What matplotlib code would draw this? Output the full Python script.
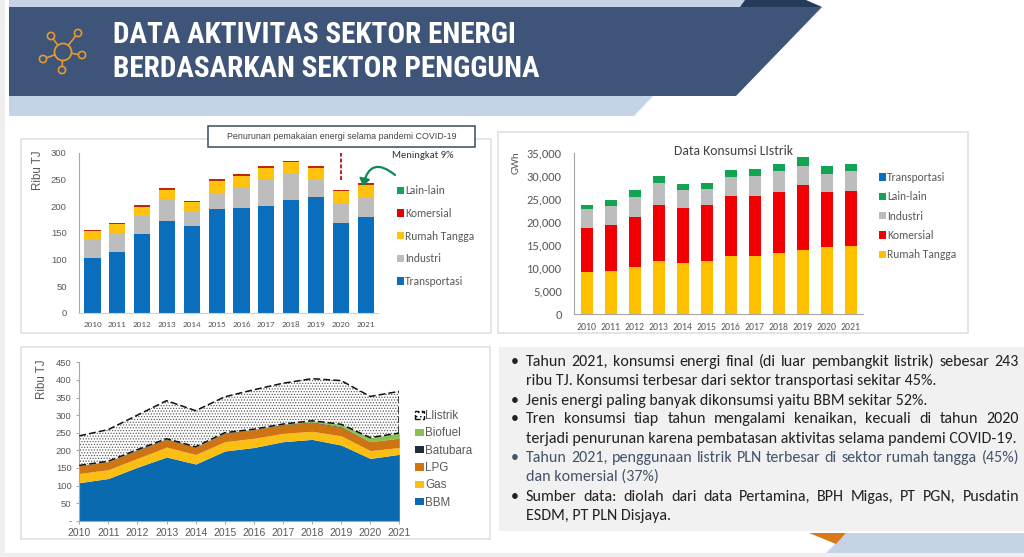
import matplotlib
matplotlib.use("Agg")
import matplotlib.pyplot as plt
from matplotlib.patches import Polygon, Rectangle, Circle, FancyArrowPatch, Patch
import numpy as np

W, H = 1024, 557
years = [str(y) for y in range(2010, 2022)]

# Chart 1: sector consumption (ribu TJ)
s1_transportasi = [102, 114, 147.5, 171, 162.5, 194, 196, 200, 211, 217.5, 168, 179]
s1_industri = [35.5, 36, 34.5, 43, 28.5, 31, 38, 49, 49, 31.5, 36, 37]
s1_rumah = [15, 17, 17, 16, 16.5, 22, 22, 22, 22, 22, 23.5, 24]
s1_komersial = [2.5, 2, 3, 3, 2.5, 3, 4, 4, 3, 4, 2.5, 3]
s1_lain = [0.02] * 12

# Chart 2: electricity (GWh)
s2_rumah = [9130, 9490, 10360, 11590, 11090, 11520, 12680, 12750, 13260, 14060, 14640, 14780]
s2_komersial = [9710, 9930, 10870, 12180, 11950, 12180, 12970, 13050, 13260, 14055, 12030, 12030]
s2_industri = [3985, 4130, 4350, 4850, 4060, 3470, 4280, 4340, 4640, 4205, 3910, 4280]
s2_lain = [945, 1230, 1370, 1380, 1230, 1310, 1370, 1450, 1590, 1880, 1740, 1660]
s2_transportasi = [5] * 12

# Chart 3: energy type (ribu TJ)
s3_bbm = [108, 120, 152, 181, 161, 198, 208, 224.5, 231, 215, 177, 188.5]
s3_gas = [26, 25, 25, 28, 27, 26.5, 26, 23.5, 23, 26, 22, 19.5]
s3_lpg = [22, 23, 23, 22, 21, 23.5, 25, 24, 25.5, 24, 25, 26]
s3_batubara = [0.5, 0.5, 1.5, 1.5, 0.5, 1.5, 0.5, 1.5, 1.5, 2, 0.5, 0.5]
s3_biofuel = [0.5, 0.5, 0.5, 0.5, 0.5, 0.5, 0.5, 1, 3, 7, 11.5, 14.5]
s3_listrik = [84, 90, 98, 108, 102.5, 102, 112, 116, 119.5, 124, 117, 118.5]

bullets = [
    ("Tahun 2021, konsumsi energi final (di luar pembangkit listrik) sebesar 243", True, True, "#222222"),
    ("ribu TJ. Konsumsi terbesar dari sektor transportasi sekitar 45%.", False, False, "#222222"),
    ("Jenis energi paling banyak dikonsumsi yaitu BBM sekitar 52%.", True, False, "#222222"),
    ("Tren konsumsi tiap tahun mengalami kenaikan, kecuali di tahun 2020", True, True, "#222222"),
    ("terjadi penurunan karena pembatasan aktivitas selama pandemi COVID-19.", False, False, "#222222"),
    ("Tahun 2021, penggunaan listrik PLN terbesar di sektor rumah tangga (45%)", True, True, "#44546a"),
    ("dan komersial (37%)", False, False, "#44546a"),
    ("Sumber data: diolah dari data Pertamina, BPH Migas, PT PGN, Pusdatin", True, True, "#222222"),
    ("ESDM, PT PLN Disjaya.", False, False, "#222222"),
]
line_y = [361.7, 380.7, 400.7, 419.3, 438.7, 457.7, 477, 496.7, 516]

TXT = "#595959"
BLUE, GREY, YEL, RED, GRN = "#0a6ebd", "#bdbdbd", "#ffc20e", "#e00000", "#12a454"

fig = plt.figure(figsize=(W / 100, H / 100), dpi=100, facecolor="white")
bg = fig.add_axes([0, 0, 1, 1], zorder=0)
bg.set_xlim(0, W); bg.set_ylim(H, 0); bg.axis("off")


def poly(pts, c, z=1):
    bg.add_patch(Polygon(pts, closed=True, fc=c, ec="none", zorder=z))


# Page background and banner
poly([(0, 0), (5, 0), (5, H), (0, H)], "#eeeeee")
poly([(0, 553), (W, 553), (W, H), (0, H)], "#eeeeee")
poly([(9, 0), (750, 0), (745, 7), (9, 7)], "#c5d3e6")
poly([(745, 0), (806, 0), (822, 7), (740, 7)], "#263a5c", 2)
poly([(9, 96), (653, 96), (634, 116), (9, 116)], "#c5d3e6")
poly([(9, 7), (822, 7), (736, 96), (9, 96)], "#3f5479", 3)
poly([(826, 553), (846, 533), (W, 533), (W, 553)], "#c5d3e6")
poly([(809, 533), (846, 533), (836, 544)], "#d9791a", 2)

# Network icon
ICON = "#e39a2f"
centre = (63, 52)
nodes = [(51, 36), (78, 33), (82, 55), (62, 70), (43, 59)]
for n in nodes:
    bg.plot([centre[0], n[0]], [centre[1], n[1]], color=ICON, lw=1.2, zorder=4)
    bg.add_patch(Circle(n, 3.6, fc="#3f5479", ec=ICON, lw=1.2, zorder=5))
bg.add_patch(Circle(centre, 8.5, fc="#3f5479", ec=ICON, lw=1.3, zorder=5))

title_font = ["Roboto Condensed", "Archivo Narrow", "Roboto", "DejaVu Sans"]
bg.text(113, 35, "DATA AKTIVITAS SEKTOR ENERGI", color="white", fontsize=21.1,
        fontweight="bold", family=title_font, va="center", zorder=6)
bg.text(113, 69, "BERDASARKAN SEKTOR PENGGUNA", color="white", fontsize=21.1,
        fontweight="bold", family=title_font, va="center", zorder=6)

# Panels
for (x0, y0, x1, y1) in [(21, 139, 491, 332.5), (498, 132, 968, 332.5), (21, 347, 490, 539)]:
    bg.add_patch(Rectangle((x0, y0), x1 - x0, y1 - y0, fc="white", ec="#dde1e4", lw=1.2, zorder=1))
bg.add_patch(Rectangle((499, 347), W - 499, 184, fc="#f1f1f1", ec="none", zorder=1))

# Annotation box
bg.add_patch(Rectangle((208, 126), 267, 21, fc="white", ec="#3b4a5a", lw=1.1, zorder=3))
bg.text(341.5, 136.5, "Penurunan pemakaian energi selama pandemi COVID-19", fontsize=6.4,
        family="Liberation Sans", color="#444444", ha="center", va="center", zorder=4)


def ax_px(x0, y_top, x1, y_bot):
    a = fig.add_axes([x0 / W, 1 - y_bot / H, (x1 - x0) / W, (y_bot - y_top) / H], zorder=2)
    a.patch.set_alpha(0)
    return a


def legend_px(ax, handles, x, y, spacing, size, family, hlen=0.6, hpad=0.12):
    h_px = size * 100 / 72
    leg = fig.legend(handles=handles, loc="upper left", bbox_to_anchor=(x / W, 1 - y / H),
                     frameon=False, borderpad=0, borderaxespad=0, handlelength=hlen, handleheight=0.6,
                     handletextpad=hpad, labelspacing=(spacing - h_px) / h_px,
                     prop={"family": family, "size": size}, labelcolor=TXT)
    leg.set_zorder(5)
    return leg


def stack_bars(ax, series, colors, width):
    x = np.arange(len(years))
    bottom = np.zeros(len(years))
    out = []
    for vals, c in zip(series, colors):
        out.append(ax.bar(x, vals, width, bottom=bottom, color=c, lw=0))
        bottom = bottom + np.array(vals)
    return out


BODY = ["Carlito", "Lato", "DejaVu Sans"]
ARIAL = ["Liberation Sans", "DejaVu Sans"]

# Chart 1
a1 = ax_px(79.3, 152.7, 378, 312.7)
stack_bars(a1, [s1_transportasi, s1_industri, s1_rumah, s1_komersial, s1_lain],
           [BLUE, GREY, YEL, "#c0260a", GRN], 0.65)
a1.set_ylim(0, 300)
a1.set_xlim(-0.53, 11.5)
a1.set_xticks(range(12), years, fontsize=6.6, family=BODY, color=TXT)
a1.set_yticks(range(0, 301, 50))
a1.tick_params(axis="y", length=0, pad=9, labelsize=6.8, labelcolor=TXT)
a1.tick_params(axis="x", length=0, pad=6)
for l in a1.get_yticklabels():
    l.set_family(ARIAL)
for s in ("top", "right"):
    a1.spines[s].set_visible(False)
a1.spines["left"].set_color("#a6a6a6")
a1.spines["bottom"].set_color("#c3d3e3")
a1.set_ylabel("Ribu TJ", fontsize=8.3, family=ARIAL, color=TXT)
a1.yaxis.set_label_coords((44 - 79.3) / (378 - 79.3), 0.89)
a1.plot([10, 10], [249, 300], color="#b5202a", lw=1.4, ls=(0, (2, 1)), clip_on=False)
legend_px(a1, [Patch(fc=GRN, label="Lain-lain"), Patch(fc="#e00000", label="Komersial"),
               Patch(fc=YEL, label="Rumah Tangga"), Patch(fc=GREY, label="Industri"),
               Patch(fc=BLUE, label="Transportasi")], 397, 185.5, 23.15, 8.3, BODY)
bg.text(392, 155, "Meningkat 9%", fontsize=7.6, family=BODY, color="#333333", va="center", zorder=4)

# Chart 2
a2 = ax_px(574.3, 153.3, 863, 314.3)
stack_bars(a2, [s2_rumah, s2_komersial, s2_industri, s2_lain, s2_transportasi],
           ["#ffc000", "#f00000", GREY, GRN, "#0a6ebd"], 0.5)
a2.set_ylim(0, 35000)
a2.set_xlim(-0.515, 11.5)
a2.set_xticks(range(12), years, fontsize=7, family=BODY, color=TXT)
a2.set_yticks(range(0, 35001, 5000), [f"{v:,}" for v in range(0, 35001, 5000)],
              fontsize=9, family=BODY, color=TXT)
a2.tick_params(axis="y", length=0, pad=9)
a2.tick_params(axis="x", length=0, pad=6)
for s in ("top", "right"):
    a2.spines[s].set_visible(False)
a2.spines["left"].set_color("#a6a6a6")
a2.spines["bottom"].set_color("#a6a6a6")
a2.set_ylabel("GWh", fontsize=8, family=BODY, color=TXT)
a2.yaxis.set_label_coords((521 - 574.3) / (863 - 574.3), 0.94)
bg.text(733, 151, "Data Konsumsi LIstrik", fontsize=9.8, family=BODY, color="#444444",
        ha="center", va="center", zorder=4)
legend_px(a2, [Patch(fc="#0a6ebd", label="Transportasi"), Patch(fc=GRN, label="Lain-lain"),
               Patch(fc=GREY, label="Industri"), Patch(fc="#f00000", label="Komersial"),
               Patch(fc="#ffc000", label="Rumah Tangga")], 879, 172, 19.9, 8.3, BODY)

# Chart 3
a3 = ax_px(79.3, 362.3, 399.3, 520.7)
x3 = np.arange(12)
colors3 = ["#0a6ab0", "#fbbf14", "#cf7413", "#1f2d3d", "#8cc152"]
bot = np.zeros(12)
for vals, c in zip([s3_bbm, s3_gas, s3_lpg, s3_batubara, s3_biofuel], colors3):
    a3.fill_between(x3, bot, bot + np.array(vals), color=c, lw=0, zorder=2)
    bot = bot + np.array(vals)
top = bot + np.array(s3_listrik)
plt.rcParams["hatch.linewidth"] = 0.55
a3.fill_between(x3, bot, top, facecolor="white", edgecolor="#555555", hatch="......", lw=0, zorder=2)
dash = (0, (4.5, 2))
a3.plot(x3, top, color="#111111", lw=1.1, ls=dash, zorder=3)
a3.plot(x3, bot, color="#111111", lw=1.1, ls=dash, zorder=3)
a3.plot([11, 11], [bot[-1], top[-1]], color="#111111", lw=1.1, ls=dash, zorder=3)
a3.set_xlim(0, 11)
a3.set_ylim(0, 450)
a3.set_xticks(range(12), years, fontsize=7.5, family=ARIAL, color=TXT)
a3.set_yticks(range(0, 451, 50), ["-"] + [str(v) for v in range(50, 451, 50)],
              fontsize=6.8, family=ARIAL, color=TXT)
a3.tick_params(length=2.5, color="#a6a6a6", pad=3, width=0.7)
for s in ("top", "right"):
    a3.spines[s].set_visible(False)
a3.spines["left"].set_color("#a6a6a6")
a3.spines["bottom"].set_color("#a6a6a6")
a3.set_ylabel("Ribu TJ", fontsize=8.3, family=ARIAL, color=TXT)
a3.yaxis.set_label_coords((48 - 79.3) / 320, 0.89)
legend_px(a3, [Patch(fc="white", ec="#111111", ls="--", hatch="....", label="Llistrik"),
               Patch(fc=colors3[4], label="Biofuel"), Patch(fc=colors3[3], label="Batubara"),
               Patch(fc=colors3[2], label="LPG"), Patch(fc=colors3[1], label="Gas"),
               Patch(fc=colors3[0], label="BBM")], 415, 410, 17, 8.4, ARIAL, hlen=0.75, hpad=0.12)

# Curved arrow
ov = fig.add_axes([0, 0, 1, 1], zorder=6)
ov.set_xlim(0, W); ov.set_ylim(H, 0); ov.axis("off"); ov.patch.set_alpha(0)
ov.add_patch(FancyArrowPatch((395, 175), (363, 186), connectionstyle="arc3,rad=0.8",
                             arrowstyle="-|>,head_length=4,head_width=3", color="#0e8a57", lw=1.6,
                             shrinkA=0, shrinkB=0))

# Justified text
r = fig.canvas.get_renderer()
FS = 11.5
LEFT, RIGHT = 526, 1019
for (line, bullet, just, col), y in zip(bullets, line_y):
    if bullet:
        bg.text(511, y, "\u2022", fontsize=FS, family=BODY, color=col, va="center", ha="left", zorder=4)
    if not just:
        bg.text(LEFT, y, line, fontsize=FS, family=BODY, color=col, va="center", zorder=4)
        continue
    words = line.split(" ")
    arts = [bg.text(LEFT, y, w, fontsize=FS, family=BODY, color=col, va="center", zorder=4) for w in words]
    widths = [t.get_window_extent(r).width for t in arts]
    gap = (RIGHT - LEFT - sum(widths)) / (len(words) - 1)
    cur = LEFT
    for t, w_ in zip(arts, widths):
        t.set_x(cur)
        cur += w_ + gap

fig.savefig("out.png", dpi=100)
